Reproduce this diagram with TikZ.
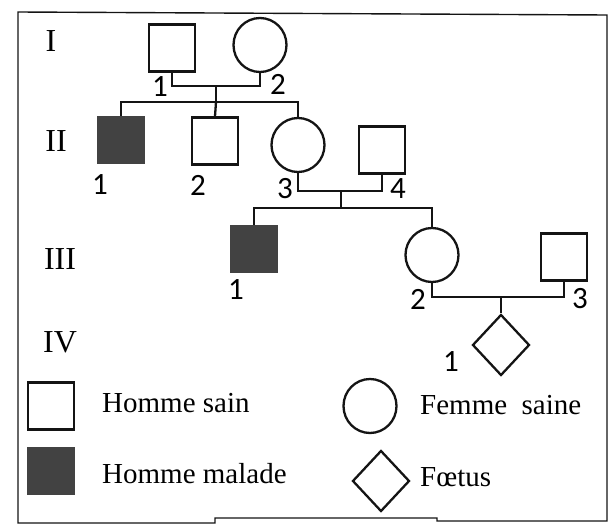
\documentclass[tikz,border=0pt]{standalone}
\usepackage{fontspec}
\setmainfont{Liberation Serif}
\newfontfamily\numfont{Carlito}
\usepackage{tikz}
\usetikzlibrary{shapes.geometric, positioning}
\definecolor{mydark}{RGB}{20,20,20}
\definecolor{mysick}{RGB}{66,66,66}
\tikzset{
  male/.style={rectangle, draw=mydark, fill=white, line width=2.3pt,
    inner sep=0pt, minimum width=46pt, minimum height=47pt},
  sickmale/.style={rectangle, draw=mysick, fill=mysick, line width=1.2pt,
    inner sep=0pt, minimum width=47pt, minimum height=47pt},
  female/.style={ellipse, draw=mydark, fill=white, line width=2.3pt,
    inner sep=0pt, minimum width=53pt, minimum height=54pt},
  fetus/.style={diamond, draw=mydark, fill=white, line width=2.3pt,
    inner sep=0pt, minimum width=57pt, minimum height=61pt},
  num/.style={font=\numfont\fontsize{31}{31}\selectfont, inner sep=0pt},
  gen/.style={font=\fontsize{32}{32}\selectfont, inner sep=0pt},
  legtext/.style={font=\fontsize{29}{29}\selectfont, anchor=west, inner sep=0pt},
  line/.style={line width=2.3pt, color=mydark}
}
\begin{document}
\begin{tikzpicture}[x=1pt, y=-1pt]
  \useasboundingbox (0,0) rectangle (613,530);

  % frame
  \draw[line width=1.4pt, color=mydark] (18,12) -- (607,15) -- (607,521)
    -- (437,521) -- (437,518) -- (215,518) -- (215,523) -- (18,523) -- cycle;

  % generations
  \node[gen] (gI) at (51,41) {I};
  \node[gen] (gII) at (56,141) {II};
  \node[gen] (gIII) at (60,259) {III};
  \node[gen] (gIV) at (60,342) {IV};

  % generation I
  \node[male] (I1) at (172,48) {};
  \node[female] (I2) at (260,45) {};
  \node[num] at (160,87) {1};
  \node[num] at (278,84) {2};

  % generation II
  \node[sickmale] (II1) at (121,140) {};
  \node[male] (II2) at (215,141) {};
  \node[female] (II3) at (298,145) {};
  \node[male] (II4) at (382,150) {};
  \node[num] at (100,185) {1};
  \node[num] at (198,185) {2};
  \node[num] at (285,189) {3};
  \node[num] at (398,189) {4};

  % generation III
  \node[sickmale] (III1) at (254,249) {};
  \node[female] (III2) at (432,255) {};
  \node[male] (III3) at (564,257) {};
  \node[num] at (236,290) {1};
  \node[num] at (418,299) {2};
  \node[num] at (580,299) {3};

  % generation IV
  \node[fetus] (IV1) at (501,345) {};
  \node[num] at (451,362) {1};

  % couples and sibships
  \coordinate (m1) at (216,86);
  \coordinate (s1) at (216,102);
  \coordinate (m2) at (341,191);
  \coordinate (s2) at (341,208);
  \coordinate (m3) at (501,297);

  \draw[line] (I1.south) |- (m1) -| (I2.south);
  \draw[line] (m1) -- (s1);
  \draw[line] (II1.north) |- (s1) -| (II3.north);
  \draw[line] (s1) -- (II2.north);

  \draw[line] (II3.south) |- (m2) -| (II4.south);
  \draw[line] (m2) -- (s2);
  \draw[line] (III1.north) |- (s2) -| (III2.north);

  \draw[line] (III2.south) |- (m3) -| (III3.south);
  \draw[line] (m3) -- (IV1.north);

  % legend
  \node[male] (lgsain) at (51,406) {};
  \node[sickmale] (lgmalade) at (51,471) {};
  \node[female] (lgfemme) at (370,406) {};
  \node[fetus] (lgfoetus) at (381,481) {};
  \node[legtext] (tsain) at (102,403) {Homme sain};
  \node[legtext] (tmalade) at (102,474) {Homme malade};
  \node[legtext] (tfemme) at (420,405) {Femme\ \ saine};
  \node[legtext] (tfoetus) at (420,477) {Fœtus};

\end{tikzpicture}
\end{document}
